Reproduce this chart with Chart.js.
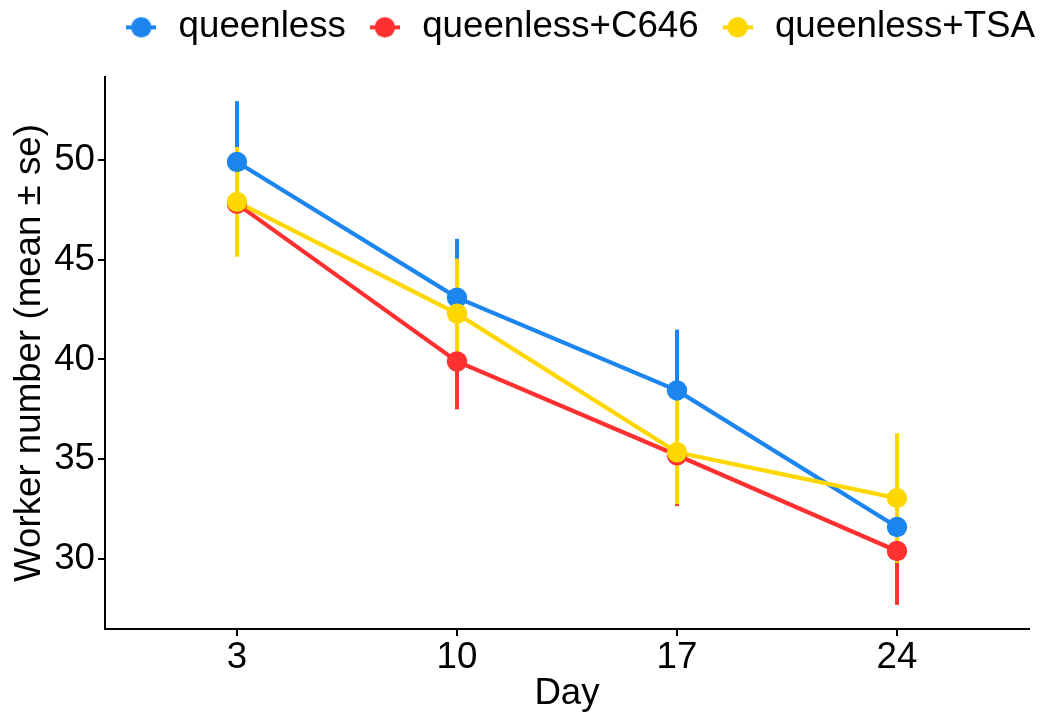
<!DOCTYPE html>
<html>
<head>
<meta charset="utf-8">
<script src="https://cdn.jsdelivr.net/npm/chart.js@4.4.1/dist/chart.umd.min.js"></script>
<style>
  html, body { margin: 0; padding: 0; background: #ffffff; }
  #wrap { width: 1043px; height: 717px; }
</style>
</head>
<body>
<div id="wrap"><canvas id="c" width="1043" height="717"></canvas></div>
<script>
// Day of sampling (x categories)
const days = ['3', '10', '17', '24'];
const seriesNames = ['queenless', 'queenless+C646', 'queenless+TSA'];

// Worker number, mean and standard error per day
const queenlessMean = [49.9, 43.1, 38.45, 31.6];
const queenlessSe   = [3.05, 2.95, 3.05, 3.3];
const c646Mean      = [47.8, 39.9, 35.2, 30.4];
const c646Se        = [2.4, 2.4, 2.55, 2.7];
const tsaMean       = [47.9, 42.3, 35.35, 33.05];
const tsaSe         = [2.75, 2.75, 2.6, 3.25];

const yTicks = [30, 35, 40, 45, 50];

const colors = ['#1C86EE', '#FF3030', '#FFD700'];
const FONT = "'Liberation Sans', Arial, Helvetica, sans-serif";
const FONT_SIZE = 36.7;

const groups = [
  { name: seriesNames[0], mean: queenlessMean, se: queenlessSe, color: colors[0] },
  { name: seriesNames[1], mean: c646Mean,      se: c646Se,      color: colors[1] },
  { name: seriesNames[2], mean: tsaMean,       se: tsaSe,       color: colors[2] }
];

const toPoints = (arr) => arr.map((v, i) => ({ x: i + 1, y: v }));

// Legend key: short line with a dot on top
function makeKey(color) {
  const k = document.createElement('canvas');
  k.width = 30; k.height = 22;
  const g = k.getContext('2d');
  g.strokeStyle = color; g.lineWidth = 4;
  g.beginPath(); g.moveTo(0, 11); g.lineTo(30, 11); g.stroke();
  g.fillStyle = color;
  g.beginPath(); g.arc(15, 11, 10.2, 0, Math.PI * 2); g.fill();
  return k;
}
const keys = colors.map(makeKey);

// Lines first (drawn below), then points on top; lower order is drawn last
const lineSets = groups.map((g, i) => ({
  label: g.name + ' line',
  data: toPoints(g.mean),
  borderColor: g.color,
  backgroundColor: g.color,
  borderWidth: 4.2,
  pointRadius: 0,
  tension: 0,
  fill: false,
  order: 6 - i
}));
const pointSets = groups.map((g, i) => ({
  label: g.name,
  data: toPoints(g.mean),
  showLine: false,
  backgroundColor: g.color,
  borderColor: g.color,
  borderWidth: 0,
  pointRadius: 10.2,
  pointHoverRadius: 10.2,
  order: 3 - i
}));

// Vertical mean ± se bars, drawn beneath lines and points
const errorBars = {
  id: 'errorBars',
  beforeDatasetsDraw(chart) {
    const { ctx, chartArea, scales: { x, y } } = chart;
    ctx.save();
    ctx.beginPath();
    ctx.rect(chartArea.left, chartArea.top, chartArea.width, chartArea.height);
    ctx.clip();
    ctx.lineWidth = 4;
    ctx.lineCap = 'butt';
    groups.forEach((g) => {
      ctx.strokeStyle = g.color;
      g.mean.forEach((m, i) => {
        const px = x.getPixelForValue(i + 1);
        ctx.beginPath();
        ctx.moveTo(px, y.getPixelForValue(m - g.se[i]));
        ctx.lineTo(px, y.getPixelForValue(m + g.se[i]));
        ctx.stroke();
      });
    });
    ctx.restore();
  }
};

// Fixed height for the legend band above the plot
const LEGEND_HEIGHT = 88;
const legendBand = {
  id: 'legendBand',
  beforeLayout(chart) {
    const lg = chart.legend;
    if (lg && !lg._fixedBand) {
      const fit = lg.fit;
      lg.fit = function () { fit.call(this); this.height = LEGEND_HEIGHT; };
      lg._fixedBand = true;
    }
  }
};

const axisCommon = {
  grid: { display: true, drawOnChartArea: false, drawTicks: true, tickLength: 7, color: '#000', lineWidth: 2 },
  border: { display: true, color: '#000', width: 2 }
};

new Chart(document.getElementById('c'), {
  type: 'line',
  data: { datasets: [...lineSets, ...pointSets] },
  plugins: [errorBars, legendBand],
  options: {
    responsive: false,
    animation: false,
    events: [],
    layout: { padding: { top: -11, left: 0, right: -12, bottom: 0 } },
    plugins: {
      tooltip: { enabled: false },
      legend: {
        position: 'top',
        align: 'end',
        labels: {
          usePointStyle: true,
          pointStyleWidth: 38,
          padding: 20,
          color: '#000',
          font: { family: FONT, size: FONT_SIZE },
          generateLabels: () => groups.map((g, i) => ({
            text: g.name,
            pointStyle: keys[i],
            fillStyle: g.color,
            strokeStyle: g.color,
            lineWidth: 0,
            fontColor: '#000',
            hidden: false,
            datasetIndex: 3 + i
          }))
        }
      }
    },
    scales: {
      x: {
        type: 'linear',
        min: 0.4,
        max: 4.6,
        ...axisCommon,
        afterBuildTicks: (s) => { s.ticks = days.map((d, i) => ({ value: i + 1 })); },
        afterFit: (s) => { s.height = 88; s.paddingRight = 14; },
        ticks: {
          color: '#000',
          padding: 0,
          font: { family: FONT, size: FONT_SIZE },
          maxRotation: 0,
          autoSkip: false,
          callback: (v, i) => days[i]
        },
        title: {
          display: true,
          text: 'Day',
          color: '#000',
          font: { family: FONT, size: FONT_SIZE },
          padding: { top: 0, bottom: 1 }
        }
      },
      y: {
        type: 'linear',
        min: 26.49,
        max: 54.16,
        ...axisCommon,
        afterBuildTicks: (s) => { s.ticks = yTicks.map((v) => ({ value: v })); },
        afterFit: (s) => { s.width = 105; },
        ticks: {
          color: '#000',
          padding: 3,
          font: { family: FONT, size: FONT_SIZE },
          autoSkip: false
        },
        title: {
          display: true,
          text: 'Worker number (mean ± se)',
          color: '#000',
          font: { family: FONT, size: FONT_SIZE },
          padding: { top: 8, bottom: 0 }
        }
      }
    }
  }
});
</script>
</body>
</html>
